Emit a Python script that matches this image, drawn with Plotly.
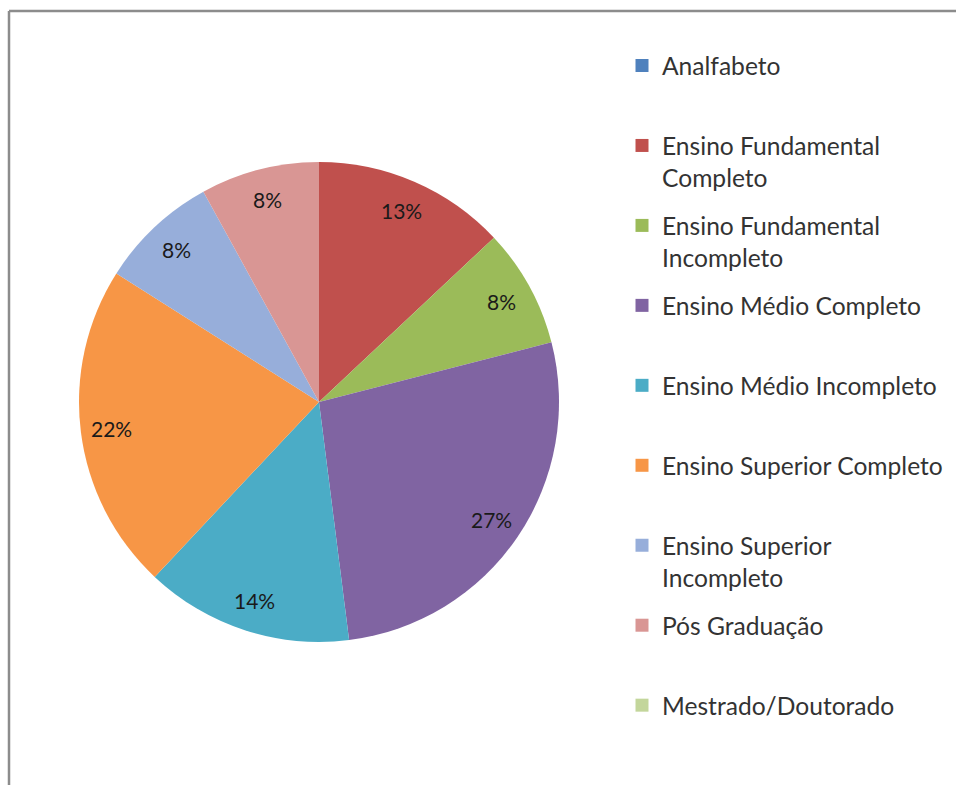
import math
import plotly.graph_objects as go

categories = [
    "Analfabeto",
    "Ensino Fundamental Completo",
    "Ensino Fundamental Incompleto",
    "Ensino Médio Completo",
    "Ensino Médio Incompleto",
    "Ensino Superior Completo",
    "Ensino Superior Incompleto",
    "Pós Graduação",
    "Mestrado/Doutorado",
]
legend_labels = [
    "Analfabeto",
    "Ensino Fundamental<br>Completo",
    "Ensino Fundamental<br>Incompleto",
    "Ensino Médio Completo",
    "Ensino Médio Incompleto",
    "Ensino Superior Completo",
    "Ensino Superior<br>Incompleto",
    "Pós Graduação",
    "Mestrado/Doutorado",
]
values = [0, 13, 8, 27, 14, 22, 8, 8, 0]
colors = ["#4F81BD", "#C0504D", "#9BBB59", "#8064A2", "#4BACC6",
          "#F79646", "#97AEDA", "#D99694", "#C3D69B"]

W, H = 956, 785
FONT = "Lato"

# pie geometry (pixels)
CX, CY, R = 319, 402, 240
dom_x = [(CX - R) / W, (CX + R) / W]
dom_y = [1 - (CY + R) / H, 1 - (CY - R) / H]

fig = go.Figure()
fig.add_trace(go.Pie(
    labels=categories,
    values=values,
    textinfo="none",
    marker=dict(colors=colors, line=dict(width=0)),
    sort=False,
    direction="clockwise",
    rotation=0,
    showlegend=False,
    hoverinfo="label+percent",
    domain=dict(x=dom_x, y=dom_y),
))

# percentage labels placed at slice mid-angles, outer part of slice
total = sum(values)
annotations = []
cum = 0
for v in values:
    if v:
        mid = (cum + v / 2) / total * 2 * math.pi
        px = CX + 0.87 * R * math.sin(mid)
        py = CY - 0.87 * R * math.cos(mid)
        annotations.append(dict(
            x=px / W, y=1 - py / H, xref="paper", yref="paper",
            text=f"{round(v / total * 100)}%", showarrow=False,
            font=dict(family=FONT, size=21, color="#1a1a1a"),
            xanchor="center", yanchor="middle",
        ))
    cum += v

# legend entries (one per category, same colours)
for i, (lab, col) in enumerate(zip(legend_labels, colors)):
    txt = lab if "<br>" in lab else lab + "<br>\u00a0"
    fig.add_trace(go.Scatter(
        x=[None], y=[None], mode="markers", name=txt,
        marker=dict(symbol="square", size=13, color=col),
        legendgroup=f"g{i}", showlegend=True, hoverinfo="skip",
    ))

fig.update_layout(
    width=W, height=H,
    margin=dict(l=0, r=0, t=0, b=0),
    paper_bgcolor="white",
    plot_bgcolor="white",
    xaxis=dict(visible=False),
    yaxis=dict(visible=False),
    font=dict(family=FONT, color="#333333"),
    annotations=annotations,
    legend=dict(
        x=622 / W, y=1 - 43 / H, xanchor="left", yanchor="top",
        font=dict(family=FONT, size=24.6, color="#333333"),
        valign="top",
        tracegroupgap=13,
        itemclick=False, itemdoubleclick=False,
        bgcolor="rgba(0,0,0,0)",
    ),
    shapes=[
        dict(type="line", xref="paper", yref="paper",
             x0=9 / W, x1=1, y0=1 - 11 / H, y1=1 - 11 / H,
             line=dict(color="#8c8c8c", width=2.5)),
        dict(type="line", xref="paper", yref="paper",
             x0=9 / W, x1=9 / W, y0=1 - 11 / H, y1=0,
             line=dict(color="#8c8c8c", width=2.5)),
    ],
)

fig.write_html(
    "out.html",
    config={"displayModeBar": False},
    post_script="document.body.style.margin='0';document.body.style.overflow='hidden';",
)
